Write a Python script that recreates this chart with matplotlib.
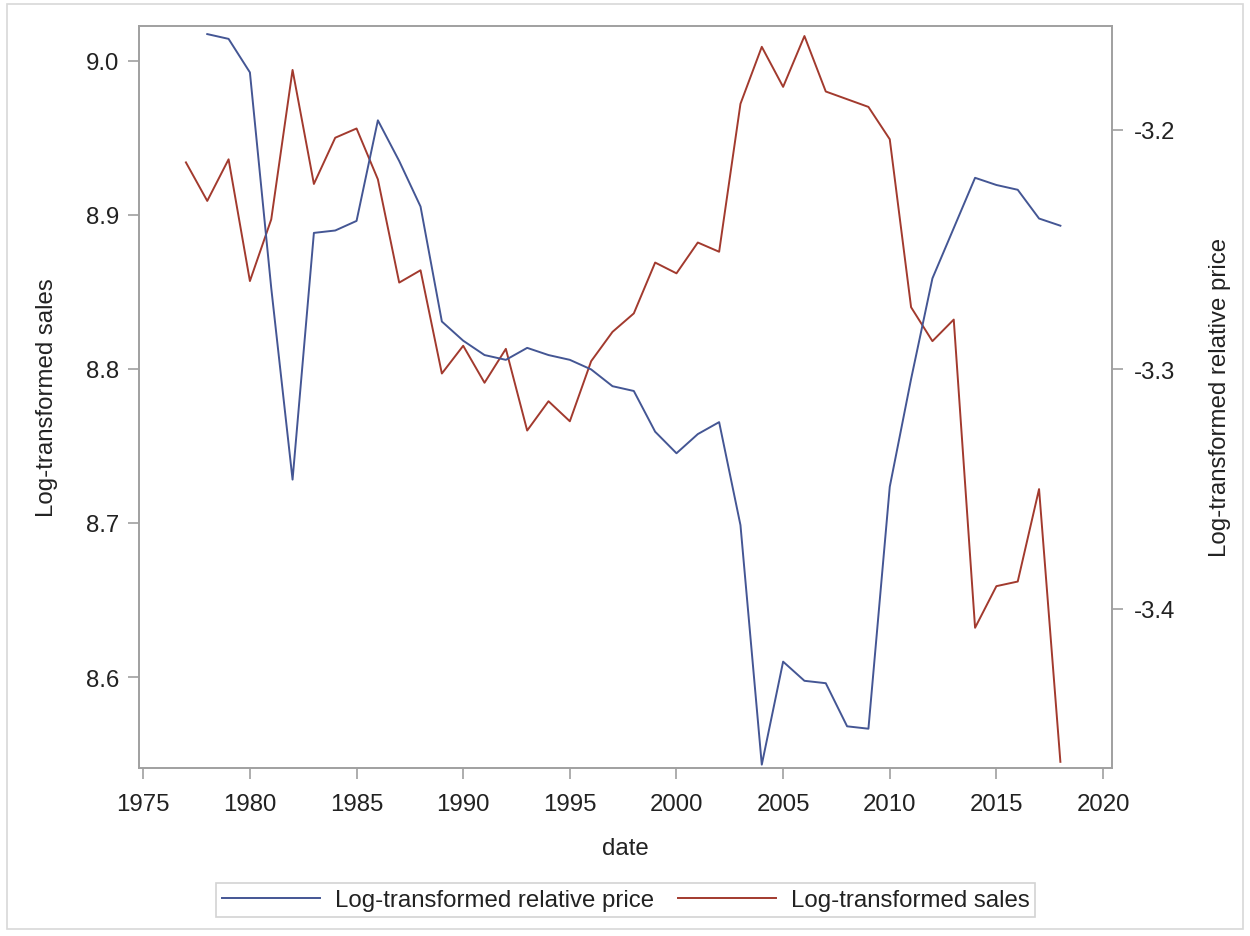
import matplotlib
matplotlib.use("Agg")
import matplotlib.pyplot as plt
from matplotlib import ticker
from matplotlib.patches import Rectangle

# serie annuali (log)
anni_sales = list(range(1977, 2019))
sales = [8.934, 8.909, 8.936, 8.857, 8.897, 8.994, 8.920, 8.950, 8.956, 8.923,
         8.856, 8.864, 8.797, 8.815, 8.791, 8.813, 8.760, 8.779, 8.766, 8.805,
         8.824, 8.836, 8.869, 8.862, 8.882, 8.876, 8.972, 9.009, 8.983, 9.016,
         8.980, 8.975, 8.970, 8.949, 8.840, 8.818, 8.832, 8.632, 8.659, 8.662,
         8.722, 8.545]

anni_price = list(range(1978, 2019))
price = [-3.160, -3.162, -3.176, -3.266, -3.346, -3.243, -3.242, -3.238, -3.196, -3.213,
         -3.232, -3.280, -3.288, -3.294, -3.296, -3.291, -3.294, -3.296, -3.300, -3.307,
         -3.309, -3.326, -3.335, -3.327, -3.322, -3.365, -3.465, -3.422, -3.430, -3.431,
         -3.449, -3.450, -3.349, -3.304, -3.262, -3.241, -3.220, -3.223, -3.225, -3.237,
         -3.240]

xticks_anni = [1975, 1980, 1985, 1990, 1995, 2000, 2005, 2010, 2015, 2020]
yticks_sales = [8.6, 8.7, 8.8, 8.9, 9.0]
yticks_price = [-3.4, -3.3, -3.2]

BLU = '#445694'
ROSSO = '#A23A2E'
GRIGIO = '#a0a0a0'
TESTO = '#222222'
FS = 17.3


def stile_asse(ax):
    for s in ax.spines.values():
        s.set_color(GRIGIO)
        s.set_linewidth(1.2)
    ax.tick_params(axis='both', colors=GRIGIO, labelcolor=TESTO, labelsize=FS,
                   length=8, width=1.2, direction='out', pad=6)


def main():
    plt.rcParams['font.family'] = ['Liberation Sans', 'DejaVu Sans']
    plt.rcParams['axes.unicode_minus'] = False

    fig = plt.figure(figsize=(12.5, 9.37), dpi=100)
    ax = fig.add_axes([0.1112, 0.1793, 0.7784, 0.7922])
    ax2 = ax.twinx()

    # prezzo relativo sull'asse destro, vendite su quello sinistro
    l1, = ax2.plot(anni_price, price, color=BLU, linewidth=1.4,
                   label='Log-transformed relative price')
    l2, = ax.plot(anni_sales, sales, color=ROSSO, linewidth=1.4,
                  label='Log-transformed sales')

    ax.set_xlim(1974.8, 2020.42)
    ax.set_ylim(8.541, 9.0227)
    ax2.set_ylim(-3.4664, -3.1565)

    ax.set_xticks(xticks_anni)
    ax.set_yticks(yticks_sales)
    ax2.set_yticks(yticks_price)
    ax.yaxis.set_major_formatter(ticker.FormatStrFormatter('%.1f'))
    ax2.yaxis.set_major_formatter(ticker.FormatStrFormatter('%.1f'))

    stile_asse(ax)
    stile_asse(ax2)
    ax.tick_params(axis='x', pad=10)
    ax2.tick_params(axis='y', pad=8)

    ax.set_xlabel('date', fontsize=FS, color=TESTO, labelpad=16)
    ax.set_ylabel('Log-transformed sales', fontsize=FS, color=TESTO, labelpad=20)
    ax2.set_ylabel('Log-transformed relative price', fontsize=FS, color=TESTO, labelpad=24)

    leg = fig.legend(handles=[l1, l2], loc='center', bbox_to_anchor=(0.5004, 0.0379),
                     ncol=2, fontsize=FS, frameon=True, fancybox=False,
                     handlelength=4.1, handletextpad=0.6, columnspacing=1.0,
                     borderpad=0.25)
    leg.get_frame().set_edgecolor('#c8c8c8')
    leg.get_frame().set_linewidth(1.2)
    for t in leg.get_texts():
        t.set_color(TESTO)

    # bordo esterno della figura
    fig.patches.append(Rectangle((7 / 1250, 7 / 937), 1236 / 1250, 925 / 937,
                                 transform=fig.transFigure, fill=False,
                                 edgecolor='#d8d8d8', linewidth=1.2))

    fig.savefig('out.png', dpi=100)


if __name__ == "__main__":
    main()
